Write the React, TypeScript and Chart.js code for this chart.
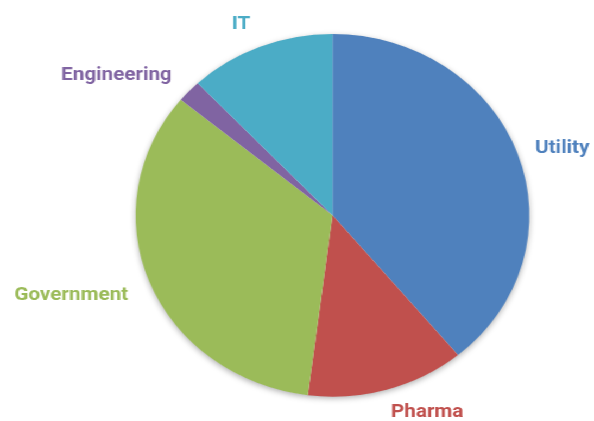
import React, { useEffect, useRef } from "react";
import { Chart, registerables } from "chart.js";

Chart.register(...registerables);

const categories = ["Utility", "Pharma", "Government", "Engineering", "IT"];
const shares = [39, 13, 34, 2, 12];
const sliceColors = ["#4F81BD", "#C0504D", "#9BBB59", "#8064A2", "#4BACC6"];

const STRETCH = 594 / 547;

const shadowPlugin = {
  id: "pieShadow",
  beforeDatasetsDraw(chart: any) {
    const meta = chart.getDatasetMeta(0);
    const arc = meta.data[0];
    if (!arc) return;
    const { x, y, outerRadius } = arc.getProps(["x", "y", "outerRadius"], true);
    const ctx = chart.ctx;
    ctx.save();
    ctx.shadowColor = "rgba(0,0,0,0.35)";
    ctx.shadowBlur = 6;
    ctx.shadowOffsetY = 2;
    ctx.beginPath();
    ctx.arc(x, y, outerRadius - 0.5, 0, Math.PI * 2);
    ctx.fillStyle = "#ffffff";
    ctx.fill();
    ctx.restore();
  },
};

const labelPlugin = {
  id: "outsideLabels",
  afterDatasetsDraw(chart: any) {
    const ctx = chart.ctx;
    const meta = chart.getDatasetMeta(0);
    ctx.save();
    ctx.font = "bold 19px Roboto";
    ctx.textAlign = "center";
    ctx.textBaseline = "middle";
    const h = 20;
    meta.data.forEach((el: any, i: number) => {
      const { x, y, startAngle, endAngle, outerRadius } = el.getProps(
        ["x", "y", "startAngle", "endAngle", "outerRadius"],
        true
      );
      const mid = (startAngle + endAngle) / 2;
      const d = outerRadius + 19;
      const text = categories[i];
      const w = ctx.measureText(text).width;
      const s = Math.sin(mid);
      const cx = x + Math.cos(mid) * d + Math.sign(Math.cos(mid)) * (w / 2) - 2;
      let cy = y + s * d + s * (h / 2) + 4 * (1 - Math.max(0, s));
      cy = Math.min(cy, chart.height - 9);
      ctx.fillStyle = sliceColors[i];
      ctx.fillText(text, cx, cy);
    });
    ctx.restore();
  },
};

export default function App() {
  const ref = useRef<HTMLCanvasElement | null>(null);
  useEffect(() => {
    if (!ref.current) return;
    const chart = new Chart(ref.current, {
      type: "pie",
      data: {
        labels: categories,
        datasets: [
          {
            data: shares,
            backgroundColor: sliceColors,
            borderWidth: 0,
            hoverOffset: 0,
          },
        ],
      },
      options: {
        animation: false,
        responsive: false,
        layout: { padding: { top: 34, bottom: 24.4, left: 124.9, right: 59.5 } },
        plugins: {
          legend: { display: false },
          tooltip: { enabled: false },
        },
      },
      plugins: [shadowPlugin, labelPlugin],
    });
    return () => chart.destroy();
  }, []);
  return (
    <div
      style={{
        position: "absolute",
        left: 0,
        top: 0,
        width: 547,
        height: 421,
        transform: `scaleX(${STRETCH})`,
        transformOrigin: "0 0",
        background: "#ffffff",
      }}
    >
      <canvas ref={ref} width={547} height={421} />
    </div>
  );
}
